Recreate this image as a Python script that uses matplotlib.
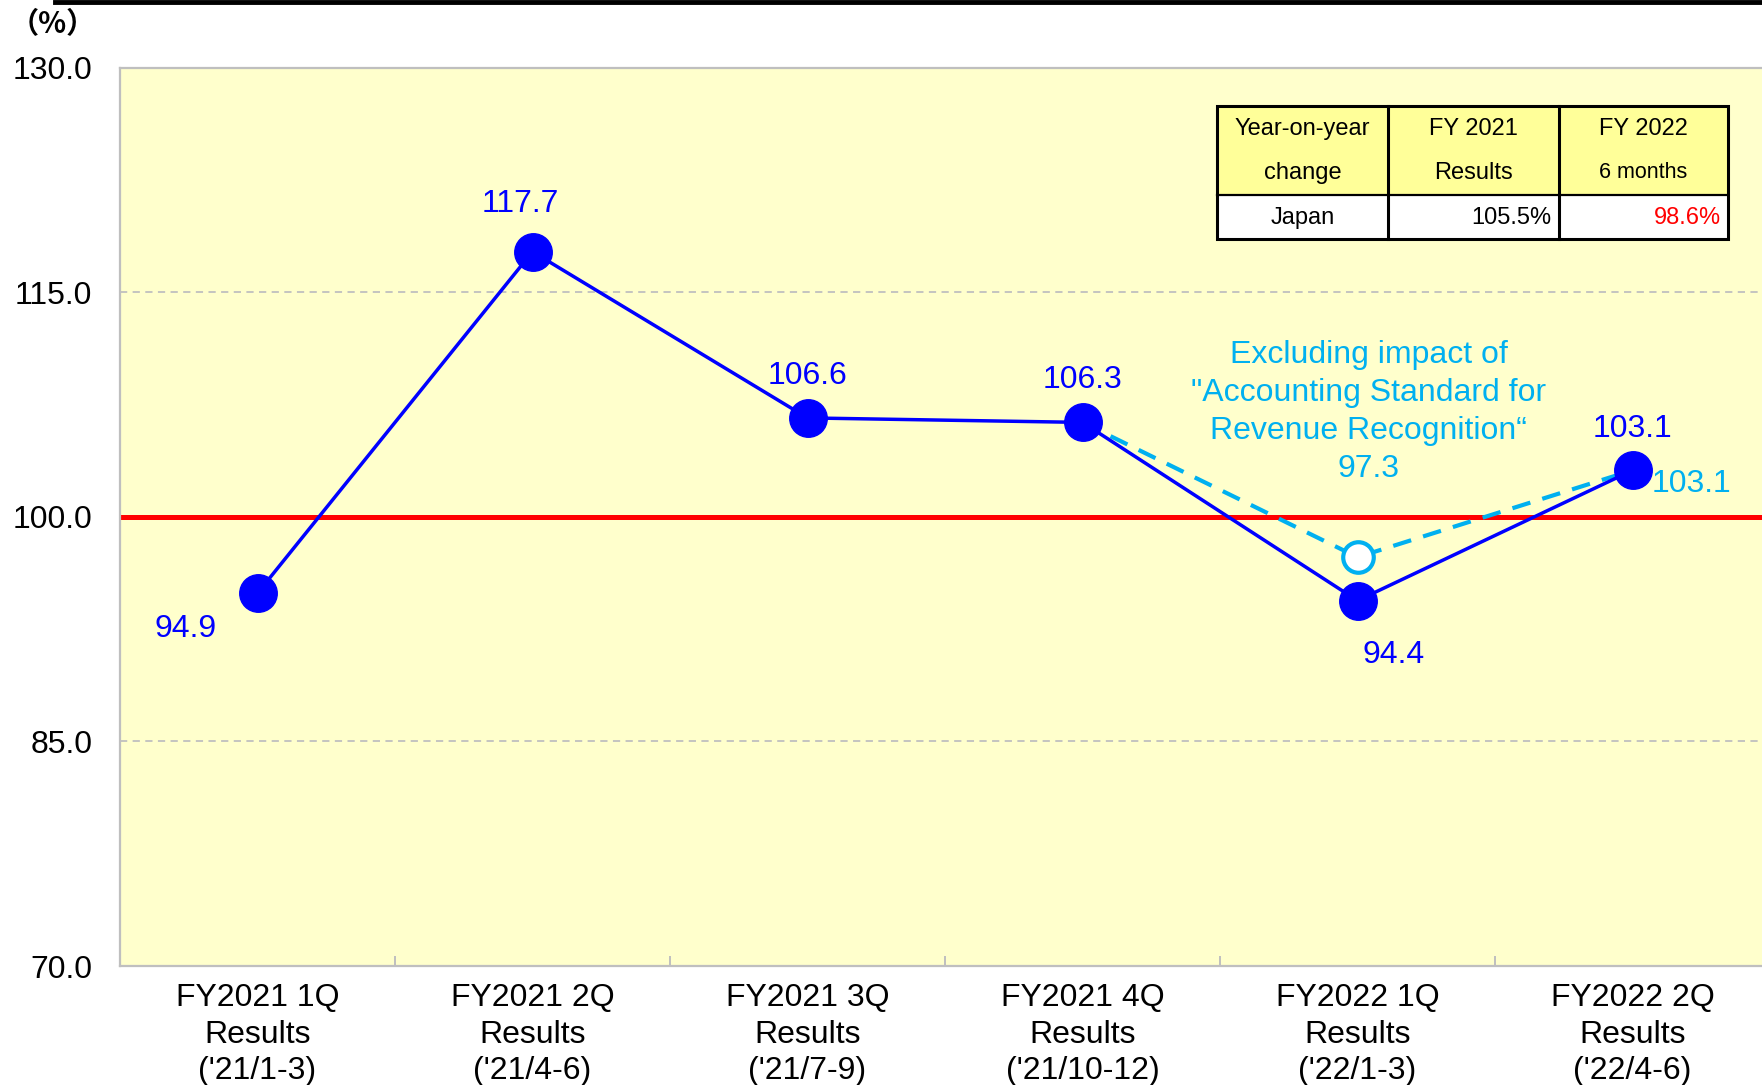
import matplotlib
matplotlib.use("Agg")
import matplotlib.pyplot as plt
from matplotlib.patches import Rectangle
from matplotlib.lines import Line2D

plt.rcParams['font.family'] = ['Liberation Sans', 'DejaVu Sans']

# ---- data ----
categories = [
    "FY2021 1Q\nResults\n('21/1-3)",
    "FY2021 2Q\nResults\n('21/4-6)",
    "FY2021 3Q\nResults\n('21/7-9)",
    "FY2021 4Q\nResults\n('21/10-12)",
    "FY2022 1Q\nResults\n('22/1-3)",
    "FY2022 2Q\nResults\n('22/4-6)",
]
yoy_values = [94.9, 117.7, 106.6, 106.3, 94.4, 103.1]

# series excluding the revenue-recognition standard impact (from 4Q onwards)
adj_index = [3, 4, 5]
adj_values = [106.3, 97.3, 103.1]

y_ticks = [70.0, 85.0, 100.0, 115.0, 130.0]

table_header = [["Year-on-year", "change"], ["FY 2021", "Results"], ["FY 2022", "6 months"]]
table_row = ["Japan", "105.5%", "98.6%"]

BLUE = "#0000FF"
CYAN = "#00B0F0"
BG = "#FFFFCC"

W, H = 1762, 1085
fig = plt.figure(figsize=(W / 100, H / 100), dpi=100)

def fx(px):
    return px / W

def fy(py):
    return 1 - py / H

# plot area
left_px, right_px, top_px, bot_px = 120, 1770, 67.5, 966
ax = fig.add_axes([fx(left_px), fy(bot_px), fx(right_px) - fx(left_px), fy(top_px) - fy(bot_px)])
ax.set_facecolor(BG)
ax.set_xlim(-0.5, len(categories) - 0.5)
ax.set_ylim(y_ticks[0], y_ticks[-1])

for s in ax.spines.values():
    s.set_color("#BFBFBF")
    s.set_linewidth(1.6)

ax.set_yticks(y_ticks)
ax.set_yticklabels([f"{v:.1f}" for v in y_ticks], fontsize=23)
ax.tick_params(axis="y", length=0, pad=20)

ax.set_xticks(range(len(categories)))
ax.set_xticklabels(categories, fontsize=23, linespacing=1.28)
ax.tick_params(axis="x", length=0, pad=12.5)
ax.set_xticks([i + 0.5 for i in range(len(categories) - 1)], minor=True)
ax.tick_params(axis="x", which="minor", direction="in", length=7, width=1.4, color="#BFBFBF")

# reference lines
for g in (85.0, 115.0):
    ax.axhline(g, color="#BFBFBF", lw=1.3, ls=(0, (4, 3)), zorder=1)
ax.axhline(100.0, color="#FF0000", lw=3.6, zorder=2)

# adjusted series (dashed, open marker at 1Q)
ax.plot(adj_index, adj_values, color=CYAN, lw=3, ls=(0, (4.5, 3)), zorder=3)
ax.plot([adj_index[1]], [adj_values[1]], marker="o", ms=22, mfc="white", mec=CYAN, mew=3, ls="none", zorder=4)

# main series
xs = list(range(len(yoy_values)))
ax.plot(xs, yoy_values, color=BLUE, lw=2.5, marker="o", ms=27, mfc=BLUE, mec=BLUE, zorder=5)

label_offsets = [(-72, -36), (-12, 48), (0, 42), (0, 42), (36, -54), (0, 41)]
for x, v, off in zip(xs, yoy_values, label_offsets):
    ax.annotate(f"{v:.1f}", (x, v), xytext=off, textcoords="offset pixels",
                ha="center", va="center", fontsize=23, color=BLUE, zorder=6)

ax.annotate(f"{adj_values[2]:.1f}", (adj_index[2], adj_values[2]), xytext=(59, -14),
            textcoords="offset pixels", ha="center", va="center", fontsize=23, color=CYAN)
ax.annotate("Excluding impact of\n\"Accounting Standard for\nRevenue Recognition\u201c\n"
            f"{adj_values[1]:.1f}",
            (adj_index[1], adj_values[1]), xytext=(11, 145), textcoords="offset pixels",
            ha="center", va="center", fontsize=23, color=CYAN, linespacing=1.34)

# summary table
tl, tr, tt, tb = 1217, 1728, 105.5, 239
col_x = [1217, 1388, 1559, 1728]
row_div = 194.5
fig.add_artist(Rectangle((fx(tl), fy(row_div)), fx(tr) - fx(tl), fy(tt) - fy(row_div),
                         transform=fig.transFigure, facecolor="#FFFF99", edgecolor="none"))
fig.add_artist(Rectangle((fx(tl), fy(tb)), fx(tr) - fx(tl), fy(row_div) - fy(tb),
                         transform=fig.transFigure, facecolor="white", edgecolor="none"))
fig.add_artist(Rectangle((fx(tl), fy(tb)), fx(tr) - fx(tl), fy(tt) - fy(tb),
                         transform=fig.transFigure, facecolor="none", edgecolor="black", lw=2.2))
fig.add_artist(Line2D([fx(tl), fx(tr)], [fy(row_div), fy(row_div)], transform=fig.transFigure,
                      color="black", lw=1.6))
for cx in col_x[1:-1]:
    fig.add_artist(Line2D([fx(cx), fx(cx)], [fy(tt), fy(tb)], transform=fig.transFigure,
                          color="black", lw=2.2))

for i, (l1, l2) in enumerate(table_header):
    cx = (col_x[i] + col_x[i + 1]) / 2
    fig.text(fx(cx), fy(129), l1, ha="center", va="center", fontsize=17)
    fig.text(fx(cx), fy(173), l2, ha="center", va="center", fontsize=15.5 if i == 2 else 17)

fig.text(fx((col_x[0] + col_x[1]) / 2), fy(218), table_row[0], ha="center", va="center", fontsize=17)
fig.text(fx(1551), fy(218), table_row[1], ha="right", va="center", fontsize=17)
fig.text(fx(1721), fy(218), table_row[2], ha="right", va="center", fontsize=17, color="#FF0000")

# unit label and top rule
fig.text(fx(10), fy(24), "（%）", ha="left", va="center", fontsize=21, fontweight="bold",
         family=["Noto Sans CJK JP", "DejaVu Sans"])
fig.add_artist(Line2D([fx(55), 1], [fy(2), fy(2)], transform=fig.transFigure, color="black", lw=3.5))

fig.savefig("out.png", dpi=100)
